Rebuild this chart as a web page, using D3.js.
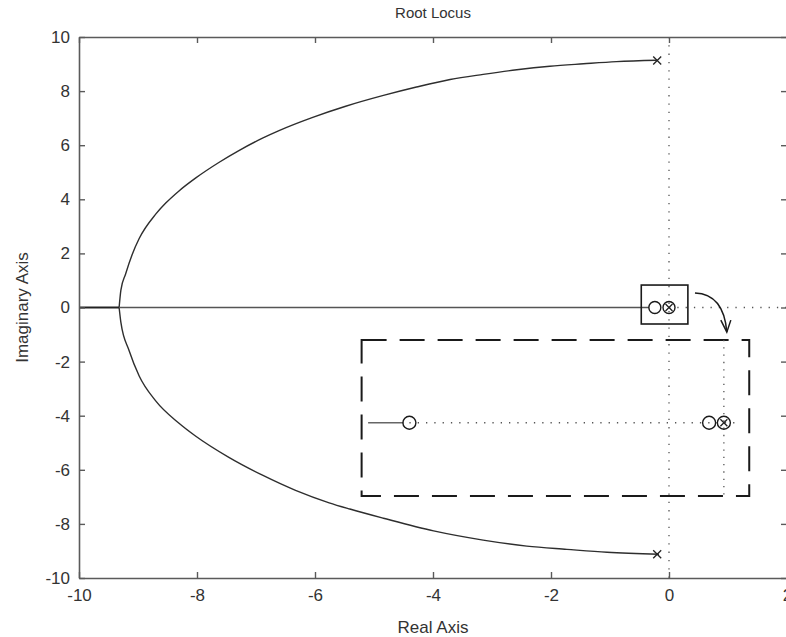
<!DOCTYPE html>
<html>
<head>
<meta charset="utf-8">
<script src="https://cdn.jsdelivr.net/npm/d3@7/dist/d3.min.js"></script>
<style>
  html, body { margin: 0; padding: 0; background: #fff; }
  svg { display: block; overflow: hidden; }
  text { font-family: "Liberation Sans", Arial, sans-serif; fill: #333; }
</style>
</head>
<body>
<svg id="chart" width="786" height="637"></svg>
<script>
// ---------- data ----------
const xTicks = [-10, -8, -6, -4, -2, 0, 2];
const yTicks = [-10, -8, -6, -4, -2, 0, 2, 4, 6, 8, 10];

// upper complex branch (from pole to break-in point)
const upperRe = [-0.21, -0.89, -1.45, -2.02, -2.58, -3.15, -3.71, -4.28, -4.84, -5.48, -6.05, -6.61, -6.89, -7.29, -7.63, -8.02, -8.31, -8.53, -8.70, -8.98, -9.10, -9.21, -9.29, -9.32];
const upperIm = [9.14, 9.09, 9.01, 8.92, 8.79, 8.62, 8.43, 8.15, 7.84, 7.44, 7.02, 6.54, 6.26, 5.80, 5.36, 4.79, 4.30, 3.86, 3.45, 2.55, 1.95, 1.24, 0.64, 0];
// lower complex branch
const lowerRe = [-0.17, -1.05, -1.73, -2.41, -3.15, -3.99, -4.84, -5.41, -5.76, -6.33, -6.89, -7.46, -8.02, -8.31, -8.70, -8.98, -9.15, -9.29, -9.32];
const lowerIm = [-9.12, -9.05, -8.94, -8.82, -8.60, -8.26, -7.79, -7.45, -7.22, -6.76, -6.20, -5.54, -4.76, -4.27, -3.45, -2.53, -1.60, -0.55, 0];

// real-axis branches
const realLeftRe = [-10, -9.32];
const realRightRe = [-9.32, -0.34];

// poles and zeros
const poleRe = [-0.2, -0.2, 0];
const poleIm = [9.13, -9.12, 0];
const zeroRe = [-0.24, 0];
const zeroIm = [0, 0];

// annotation: zoom box around origin
const boxRe = [-0.47, 0.32];
const boxIm = [0.83, -0.61];
// annotation: arrow (start, control, end)
const arrowRe = [0.44, 0.93, 0.98];
const arrowIm = [0.54, 0.50, -0.91];
// annotation: dashed inset rectangle
const insetRe = [-5.21, 1.36];
const insetIm = [-1.20, -6.97];
const insetLineIm = -4.26;
const insetSolidRe = [-5.10, -4.50];
const insetDotRe = [-4.40, 1.20];
const insetZeroRe = [-4.40, 0.68, 0.93];
const insetPoleRe = [0.93];
const insetVertRe = 0.93;

// ---------- layout ----------
const L = 79, R = 787, T = 37, B = 578;
const svg = d3.select("#chart");
const x = d3.scaleLinear().domain([-10, 2]).range([L, R]);
const y = d3.scaleLinear().domain([-10, 10]).range([B, T]);

const axisColor = "#5a5a5a";
const lineColor = "#2e2e2e";

// dotted axes lines (x=0, y=0)
svg.append("line")
  .attr("x1", x(0)).attr("x2", x(0)).attr("y1", y(10)).attr("y2", y(-10))
  .attr("stroke", "#555").attr("stroke-width", 1.3).attr("stroke-dasharray", "1.3,7");
svg.append("line")
  .attr("x1", x(0)).attr("x2", x(2)).attr("y1", y(0)).attr("y2", y(0))
  .attr("stroke", "#555").attr("stroke-width", 1.3).attr("stroke-dasharray", "1.3,7");

// locus lines
const line = d3.line().x(d => x(d[0])).y(d => y(d[1])).curve(d3.curveMonotoneX);
const upper = upperRe.map((r, i) => [r, upperIm[i]]).reverse();
const lower = lowerRe.map((r, i) => [r, lowerIm[i]]).reverse();
svg.append("path").attr("d", line(upper)).attr("fill", "none").attr("stroke", lineColor).attr("stroke-width", 1.4);
svg.append("path").attr("d", line(lower)).attr("fill", "none").attr("stroke", lineColor).attr("stroke-width", 1.4);
svg.append("line")
  .attr("x1", x(realLeftRe[0])).attr("x2", x(realLeftRe[1])).attr("y1", y(0)).attr("y2", y(0))
  .attr("stroke", "#222").attr("stroke-width", 1.8);
svg.append("line")
  .attr("x1", x(realRightRe[0])).attr("x2", x(realRightRe[1])).attr("y1", y(0)).attr("y2", y(0))
  .attr("stroke", "#555").attr("stroke-width", 1.3);

// pole markers
function drawX(cx, cy, s, w) {
  svg.append("path")
    .attr("d", `M${cx - s},${cy - s}L${cx + s},${cy + s}M${cx - s},${cy + s}L${cx + s},${cy - s}`)
    .attr("stroke", "#222").attr("stroke-width", w).attr("fill", "none");
}
poleRe.forEach((r, i) => drawX(x(r), y(poleIm[i]), i < 2 ? 4 : 3.5, 1.3));
zeroRe.forEach((r, i) => {
  svg.append("circle").attr("cx", x(r)).attr("cy", y(zeroIm[i])).attr("r", 6)
    .attr("fill", "none").attr("stroke", "#1a1a1a").attr("stroke-width", 1.4);
});

// zoom box around origin
svg.append("rect")
  .attr("x", x(boxRe[0])).attr("y", y(boxIm[0]))
  .attr("width", x(boxRe[1]) - x(boxRe[0])).attr("height", y(boxIm[1]) - y(boxIm[0]))
  .attr("fill", "none").attr("stroke", "#1a1a1a").attr("stroke-width", 1.6);

// arrow
const a0 = [x(arrowRe[0]), y(arrowIm[0])], a1 = [x(arrowRe[1]), y(arrowIm[1])], a2 = [x(arrowRe[2]), y(arrowIm[2])];
svg.append("path")
  .attr("d", `M${a0[0]},${a0[1]}Q${a1[0]},${a1[1]} ${a2[0]},${a2[1]}`)
  .attr("fill", "none").attr("stroke", "#1a1a1a").attr("stroke-width", 1.5);
svg.append("path")
  .attr("d", `M${a2[0] - 6},${a2[1] - 12}L${a2[0]},${a2[1]}L${a2[0] + 4},${a2[1] - 12}`)
  .attr("fill", "none").attr("stroke", "#1a1a1a").attr("stroke-width", 1.5);

// dashed inset rectangle
svg.append("rect")
  .attr("x", x(insetRe[0])).attr("y", y(insetIm[0]))
  .attr("width", x(insetRe[1]) - x(insetRe[0])).attr("height", y(insetIm[1]) - y(insetIm[0]))
  .attr("fill", "none").attr("stroke", "#1a1a1a").attr("stroke-width", 2)
  .attr("stroke-dasharray", "25,13");
svg.append("line")
  .attr("x1", x(insetVertRe)).attr("x2", x(insetVertRe)).attr("y1", y(insetIm[0])).attr("y2", y(insetIm[1]))
  .attr("stroke", "#555").attr("stroke-width", 1.3).attr("stroke-dasharray", "1.3,6");
svg.append("line")
  .attr("x1", x(insetSolidRe[0])).attr("x2", x(insetSolidRe[1])).attr("y1", y(insetLineIm)).attr("y2", y(insetLineIm))
  .attr("stroke", "#666").attr("stroke-width", 1.3);
svg.append("line")
  .attr("x1", x(insetDotRe[0])).attr("x2", x(insetDotRe[1])).attr("y1", y(insetLineIm)).attr("y2", y(insetLineIm))
  .attr("stroke", "#555").attr("stroke-width", 1.3).attr("stroke-dasharray", "1.3,7");
insetZeroRe.forEach(r => {
  svg.append("circle").attr("cx", x(r)).attr("cy", y(insetLineIm)).attr("r", 6.5)
    .attr("fill", "none").attr("stroke", "#1a1a1a").attr("stroke-width", 1.4);
});
insetPoleRe.forEach(r => drawX(x(r), y(insetLineIm), 3.5, 1.3));

// axes (box with inward ticks)
function styleAxis(g) {
  g.selectAll(".domain").attr("stroke", axisColor).attr("stroke-width", 1.6);
  g.selectAll(".tick line").attr("stroke", axisColor).attr("stroke-width", 1.4);
  g.selectAll("text").attr("fill", "#444").style("font-family", "'Liberation Sans', Arial, sans-serif").style("font-size", "17px");
}
svg.append("g").attr("transform", `translate(0,${B})`)
  .call(d3.axisBottom(x).tickValues(xTicks).tickFormat(d3.format("d")).tickSizeInner(-6).tickSizeOuter(0).tickPadding(11))
  .call(styleAxis);
svg.append("g").attr("transform", `translate(0,${T})`)
  .call(d3.axisTop(x).tickValues(xTicks).tickFormat("").tickSizeInner(-6).tickSizeOuter(0))
  .call(styleAxis);
svg.append("g").attr("transform", `translate(${L},0)`)
  .call(d3.axisLeft(y).tickValues(yTicks).tickFormat(d3.format("d")).tickSizeInner(-6).tickSizeOuter(0).tickPadding(9))
  .call(styleAxis);
svg.append("g").attr("transform", `translate(${R},0)`)
  .call(d3.axisRight(y).tickValues(yTicks).tickFormat("").tickSizeInner(-6).tickSizeOuter(0))
  .call(styleAxis);
svg.selectAll(".tick text").text(function () { return d3.select(this).text().replace("−", "-"); });

// titles
svg.append("text").attr("x", (L + R) / 2).attr("y", 18).attr("text-anchor", "middle")
  .style("font-size", "15px").attr("fill", "#222").text("Root Locus");
svg.append("text").attr("x", (L + R) / 2).attr("y", 633).attr("text-anchor", "middle")
  .style("font-size", "17px").attr("fill", "#222").text("Real Axis");
svg.append("text").attr("transform", `translate(28,${(T + B) / 2}) rotate(-90)`).attr("text-anchor", "middle")
  .style("font-size", "17px").attr("fill", "#222").text("Imaginary Axis");
</script>
</body>
</html>
